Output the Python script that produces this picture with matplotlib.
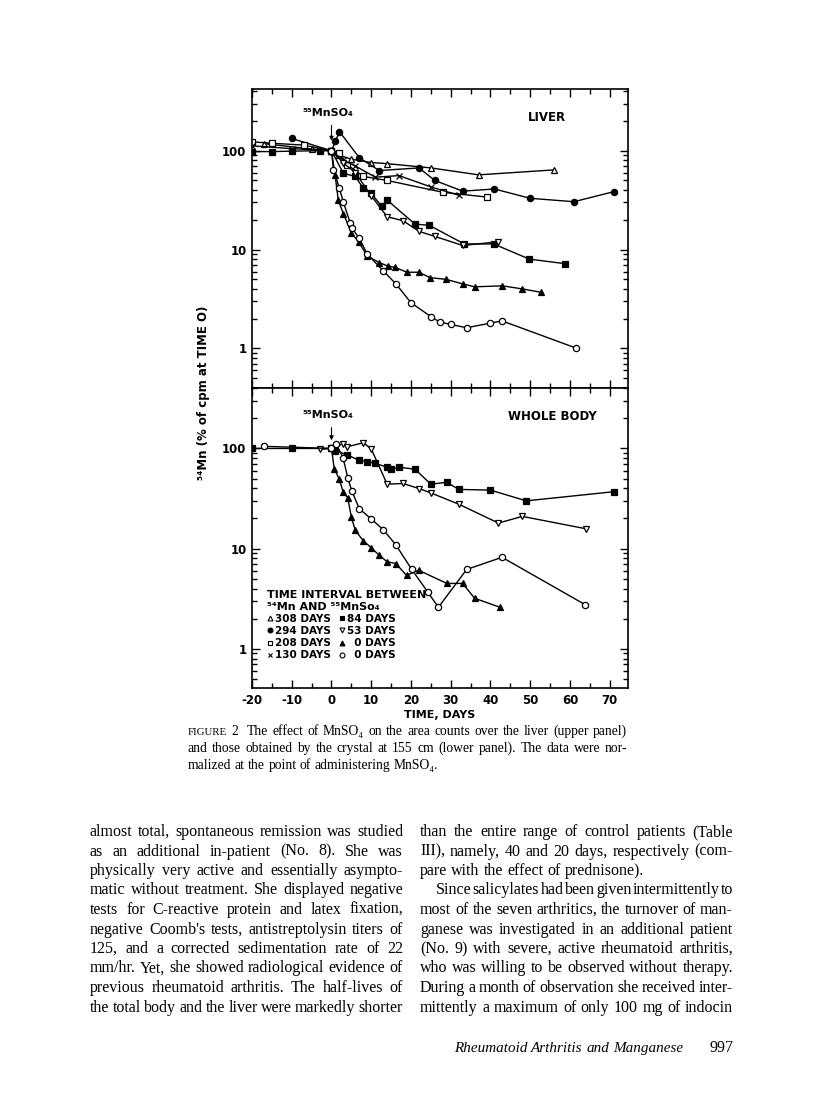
import numpy as np
import matplotlib.pyplot as plt
from matplotlib.lines import Line2D
from matplotlib.ticker import FixedLocator, NullFormatter, LogLocator

plt.rcParams['font.family'] = ['DejaVu Sans']
plt.rcParams['axes.unicode_minus'] = False

# ---- data (x = days, y = % of cpm at time 0) ----
# upper panel: liver
liv_308_x = [-17, -5, 0, 2, 5, 10, 14, 25, 37, 56]
liv_308_y = [118, 104, 100, 90, 82, 76, 74, 67, 57, 64]
liv_294_x = [-10, 0, 1, 2, 7, 12, 22, 26, 33, 41, 50, 61, 71]
liv_294_y = [133, 100, 125, 156, 85, 63, 67, 50, 39, 41, 33, 30.5, 38.5]
liv_208_x = [-20, -15, -7, 0, 2, 4, 8, 14, 28, 39]
liv_208_y = [123, 119, 114, 100, 95, 72, 55, 50, 38, 34]
liv_130_x = [-20, -10, 0, 3, 6, 11, 17, 25, 32]
liv_130_y = [112, 105, 100, 80, 70, 54, 56, 43, 35.5]
liv_84_x = [-20, -15, -10, -3, 0, 3, 6, 8, 10, 12.6, 14, 21, 24.6, 33.4, 40.8, 49.8, 58.8]
liv_84_y = [98, 98, 99, 100, 100, 59, 55, 41.6, 37, 27.5, 31.7, 18.1, 17.6, 11.4, 11.4, 8.0, 7.2]
liv_53_x = [0, 3, 6, 10, 14, 18, 22, 26, 33, 42]
liv_53_y = [100, 75, 60, 35, 21.5, 19.6, 15.3, 13.6, 11.0, 12.0]
liv_0a_x = [0, 0.9, 1.7, 3, 5, 6.8, 9, 12, 14.2, 16, 19, 22, 24.8, 28.8, 33, 36, 43, 48, 52.7]
liv_0a_y = [100, 57, 31.7, 23, 14.8, 12, 8.6, 7.4, 6.8, 6.6, 5.9, 5.9, 5.2, 5.0, 4.5, 4.2, 4.3, 4.0, 3.7]
liv_0b_x = [0, 0.5, 2, 3, 4.7, 5.1, 7, 9, 13, 16.2, 20, 25, 27.2, 30, 34, 39.9, 42.9, 61.5]
liv_0b_y = [100, 64, 41.6, 30, 18.7, 16.6, 13, 9, 6.1, 4.5, 2.9, 2.1, 1.85, 1.75, 1.62, 1.8, 1.9, 1.01]

# lower panel: whole body
wb_84_x = [-20, -10, 0, 1, 4, 7, 9, 11, 14, 15, 17, 21, 25, 29, 32, 40, 49, 71]
wb_84_y = [100, 100, 100, 95, 86, 76, 74, 71, 65, 62, 65, 62, 44, 46, 39, 38.4, 30, 37]
wb_53_x = [-3, 0, 3, 4, 8, 10, 14, 18, 22, 25, 32, 42, 48, 64]
wb_53_y = [98, 100, 112, 104, 114, 99, 44, 44.7, 39.8, 36, 27.8, 18, 21, 15.8]
wb_0a_x = [0, 0.7, 2, 2.9, 4.1, 5, 6, 8, 10, 12, 14, 16.2, 18.9, 21.9, 29, 33, 36, 42.4]
wb_0a_y = [100, 62.5, 49, 37, 32, 20.6, 15.2, 12, 10.2, 8.6, 7.4, 7.1, 5.4, 6.1, 4.5, 4.5, 3.2, 2.6]
wb_0b_x = [-17, 0, 1.1, 2.9, 4.1, 5.1, 7, 10, 13, 16.2, 20.2, 24.2, 26.9, 34, 42.9, 63.9]
wb_0b_y = [105, 100, 112, 81, 51, 37.7, 25, 19.8, 15.5, 10.9, 6.2, 3.7, 2.6, 6.2, 8.2, 2.75]

keys = ['308', '294', '208', '130', '84', '53', '0a', '0b']
legend_labels = ['308 DAYS', '294 DAYS', '208 DAYS', '130 DAYS',
                 '84 DAYS', '53 DAYS', '  0 DAYS', '  0 DAYS']
x_ticks = [-20, -10, 0, 10, 20, 30, 40, 50, 60, 70]

caption = [
    "The effect of MnSO\u2084 on the area counts over the liver (upper panel)",
    "and those obtained by the crystal at 155 cm (lower panel). The data were nor-",
    "malized at the point of administering MnSO\u2084.",
]
left_col = [
    "almost total, spontaneous remission was studied",
    "as an additional in-patient (No. 8). She was",
    "physically very active and essentially asympto-",
    "matic without treatment. She displayed negative",
    "tests for C-reactive protein and latex fixation,",
    "negative Coomb's tests, antistreptolysin titers of",
    "125, and a corrected sedimentation rate of 22",
    "mm/hr. Yet, she showed radiological evidence of",
    "previous rheumatoid arthritis. The half-lives of",
    "the total body and the liver were markedly shorter",
]
right_col = [
    "than the entire range of control patients (Table",
    "III), namely, 40 and 20 days, respectively (com-",
    "pare with the effect of prednisone).",
    "Since salicylates had been given intermittently to",
    "most of the seven arthritics, the turnover of man-",
    "ganese was investigated in an additional patient",
    "(No. 9) with severe, active rheumatoid arthritis,",
    "who was willing to be observed without therapy.",
    "During a month of observation she received inter-",
    "mittently a maximum of only 100 mg of indocin",
]
footer = "Rheumatoid Arthritis and Manganese"
page_no = "997"

styles = {
    '308': dict(marker='^', mfc='white'),
    '294': dict(marker='o', mfc='black'),
    '208': dict(marker='s', mfc='white'),
    '130': dict(marker='x'),
    '84': dict(marker='s', mfc='black'),
    '53': dict(marker='v', mfc='white'),
    '0a': dict(marker='^', mfc='black'),
    '0b': dict(marker='o', mfc='white'),
}

W, H = 816, 1100
fig = plt.figure(figsize=(8.16, 11.0), dpi=100)


def fx(px):
    return px / W


def fy(py):
    return 1 - py / H


ax1 = fig.add_axes([fx(252), fy(388), fx(628) - fx(252), fy(89) - fy(388)])
ax2 = fig.add_axes([fx(252), fy(688), fx(628) - fx(252), fy(388) - fy(688)])

liver = {'308': (liv_308_x, liv_308_y), '294': (liv_294_x, liv_294_y),
         '208': (liv_208_x, liv_208_y), '130': (liv_130_x, liv_130_y),
         '84': (liv_84_x, liv_84_y), '53': (liv_53_x, liv_53_y),
         '0a': (liv_0a_x, liv_0a_y), '0b': (liv_0b_x, liv_0b_y)}
body = {'84': (wb_84_x, wb_84_y), '53': (wb_53_x, wb_53_y),
        '0a': (wb_0a_x, wb_0a_y), '0b': (wb_0b_x, wb_0b_y)}

for ax, data in ((ax1, liver), (ax2, body)):
    for k, (xs, ys) in data.items():
        ax.plot(xs, ys, color='black', lw=1.0, ms=4.5, mec='black', mew=0.9,
                **styles[k])

for ax, top, bot in ((ax1, 421, 0.398), (ax2, 401, 0.407)):
    ax.set_yscale('log')
    ax.set_xlim(-20, 74.6)
    ax.set_ylim(bot, top)
    ax.xaxis.set_major_locator(FixedLocator(x_ticks))
    ax.xaxis.set_minor_locator(FixedLocator([t + 5 for t in x_ticks]))
    ax.yaxis.set_major_locator(FixedLocator([1, 10, 100]))
    ax.yaxis.set_minor_locator(LogLocator(base=10, subs=range(2, 10)))
    ax.yaxis.set_minor_formatter(NullFormatter())
    ax.set_yticklabels(['1', '10', '100'], fontweight='bold', fontsize=8.5)
    ax.tick_params(which='both', direction='in', top=True, right=True, width=1.0)
    ax.tick_params(which='major', length=6, pad=4)
    ax.tick_params(which='minor', length=3.5)
    for sp in ax.spines.values():
        sp.set_linewidth(1.2)

ax1.tick_params(labelbottom=False)
ax2.set_xticklabels([str(t) for t in x_ticks], fontweight='bold', fontsize=8.5)

# annotations
ax1.text(-1, 240, '\u2075\u2075MnSO\u2084', ha='center', va='center', fontweight='bold', fontsize=8)
ax1.annotate('', xy=(0, 118), xytext=(0, 192),
             arrowprops=dict(arrowstyle='-|>', color='black', lw=0.8, mutation_scale=6))
ax1.text(54.3, 216, 'LIVER', ha='center', va='center', fontweight='bold', fontsize=8.5)

ax2.text(-1, 215, '\u2075\u2075MnSO\u2084', ha='center', va='center', fontweight='bold', fontsize=8)
ax2.annotate('', xy=(0, 113), xytext=(0, 172),
             arrowprops=dict(arrowstyle='-|>', color='black', lw=0.8, mutation_scale=6))
ax2.text(55.5, 207, 'WHOLE BODY', ha='center', va='center', fontweight='bold', fontsize=8.5)

handles = [Line2D([], [], ls='none', color='black', ms=3.5, mec='black', mew=0.8,
                  **styles[k]) for k in keys]
leg = ax2.legend(handles, legend_labels, ncol=2, loc='lower left',
                 bbox_to_anchor=(0.025, 0.075), frameon=False,
                 title='TIME INTERVAL BETWEEN\n\u2075\u2074Mn AND \u2075\u2075MnSo\u2084',
                 alignment='left', handlelength=0.6, handletextpad=0.25,
                 columnspacing=0.7, labelspacing=0.2, borderpad=0,
                 prop={'weight': 'bold', 'size': 7.5},
                 title_fontproperties={'weight': 'bold', 'size': 8})

fig.text(fx(203), fy(393), '\u2075\u2074Mn (% of cpm at TIME O)', rotation=90,
         ha='center', va='center', fontweight='bold', fontsize=8.5)
fig.text(fx(440), fy(715), 'TIME, DAYS', ha='center', va='center',
         fontweight='bold', fontsize=8)

# ---- printed page text ----
serif = ['Liberation Serif', 'DejaVu Serif']
renderer = fig.canvas.get_renderer()


def natural_width(s, size, style='normal'):
    t = fig.text(0, 0, s, fontsize=size, family=serif, style=style)
    w = t.get_window_extent(renderer).width
    t.remove()
    return w


def put_line(words, x0, x1, y, size, justify=True, style='normal'):
    ts, ws = [], []
    for w in words:
        if isinstance(w, tuple):
            w, s = w
        else:
            s = size
        t = fig.text(0, fy(y), w, fontsize=s, family=serif, style=style, va='baseline')
        ts.append(t)
        ws.append(t.get_window_extent(renderer).width)
    if justify and len(ts) > 1:
        gap = (x1 - x0 - sum(ws)) / (len(ts) - 1)
    else:
        gap = natural_width('a b', size, style) - natural_width('ab', size, style)
    x = x0
    for t, w in zip(ts, ws):
        t.set_x(fx(x))
        x += w + gap


# font sizes chosen so unjustified lines span their measured widths
body_fs = 10 * 225 / natural_width(right_col[2], 10)
cap_fs = 10 * 249 / natural_width(caption[2], 10)
foot_fs = 10 * 228 / natural_width(footer, 10, 'italic')

cap_x0, cap_x1 = 188, 627
cap_y = [735, 752, 769]
put_line([('FIGURE', cap_fs * 0.8), '2', ''] + caption[0].split(), cap_x0, cap_x1, cap_y[0], cap_fs)
put_line(caption[1].split(), cap_x0, cap_x1, cap_y[1], cap_fs)
put_line(caption[2].split(), cap_x0, cap_x1, cap_y[2], cap_fs, justify=False)

base = 836
step = 19.5
for i, line in enumerate(left_col):
    put_line(line.split(), 90, 403, base + i * step, body_fs)
for i, line in enumerate(right_col):
    x0 = 436 if i == 3 else 420
    put_line(line.split(), x0, 733, base + i * step, body_fs, justify=(i != 2))

put_line(footer.split(), 454, 682, 1052, foot_fs, justify=False, style='italic')
fig.text(fx(733), fy(1052), page_no, fontsize=body_fs, family=serif, ha='right', va='baseline')

fig.savefig('out.png', dpi=100)
